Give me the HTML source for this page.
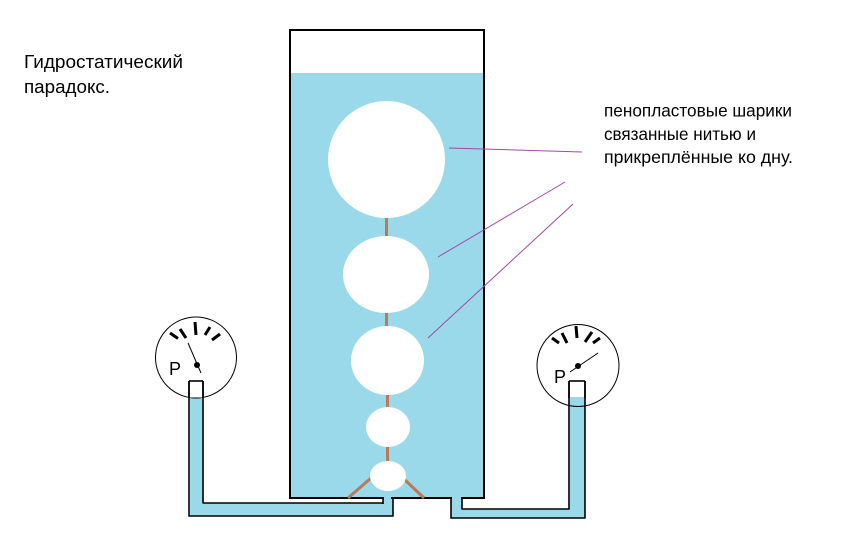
<!DOCTYPE html>
<html>
<head>
<meta charset="utf-8">
<style>
  html,body{margin:0;padding:0;background:#fff;}
  svg{display:block;}
  text{font-family:"Liberation Sans","DejaVu Sans",sans-serif;fill:#000;}
</style>
</head>
<body>
<svg width="847" height="547" viewBox="0 0 847 547" xmlns="http://www.w3.org/2000/svg">
  <rect x="0" y="0" width="847" height="547" fill="#fff"/>

  <!-- Title text -->
  <text x="24" y="68" font-size="18" textLength="159" lengthAdjust="spacingAndGlyphs">Гидростатический</text>
  <text x="24" y="93" font-size="18" textLength="86" lengthAdjust="spacingAndGlyphs">парадокс.</text>

  <!-- Annotation text -->
  <text x="604" y="116.5" font-size="17.5" textLength="188" lengthAdjust="spacingAndGlyphs">пенопластовые шарики</text>
  <text x="604" y="140" font-size="17.5" textLength="152" lengthAdjust="spacingAndGlyphs">связанные нитью и</text>
  <text x="604" y="163" font-size="17.5" textLength="189" lengthAdjust="spacingAndGlyphs">прикреплённые ко дну.</text>

  <!-- Water fills -->
  <rect x="291" y="73" width="192" height="425" fill="#99d9ea"/>
  <!-- left pipe water -->
  <rect x="190" y="398" width="13" height="118" fill="#99d9ea"/>
  <rect x="190" y="503" width="203" height="13" fill="#99d9ea"/>
  <rect x="383" y="496" width="10" height="10" fill="#99d9ea"/>
  <!-- right pipe water -->
  <rect x="569" y="397" width="16" height="121" fill="#99d9ea"/>
  <rect x="451" y="509" width="134" height="9" fill="#99d9ea"/>
  <rect x="451" y="496" width="11" height="14" fill="#99d9ea"/>

  <!-- Tank outline -->
  <g stroke="#000" stroke-width="2" fill="none">
    <line x1="290" y1="30" x2="484" y2="30"/>
    <line x1="290" y1="29" x2="290" y2="499"/>
    <line x1="484" y1="29" x2="484" y2="499"/>
    <line x1="289" y1="498" x2="384" y2="498"/>
    <line x1="391" y1="498" x2="452" y2="498"/>
    <line x1="461" y1="498" x2="485" y2="498"/>
  </g>

  <!-- Left pipe outline -->
  <g stroke="#000" stroke-width="1.6" fill="none">
    <line x1="189" y1="381" x2="189" y2="516.5"/>
    <line x1="203" y1="381" x2="203" y2="503.5"/>
    <line x1="189" y1="381" x2="203" y2="381"/>
    <line x1="203" y1="503" x2="383.5" y2="503"/>
    <line x1="383" y1="498" x2="383" y2="504"/>
    <line x1="188.5" y1="516" x2="393.5" y2="516"/>
    <line x1="393" y1="498" x2="393" y2="516.5"/>
  </g>

  <!-- Right pipe outline -->
  <g stroke="#000" stroke-width="1.6" fill="none">
    <line x1="569" y1="381" x2="569" y2="509.5"/>
    <line x1="585" y1="381" x2="585" y2="518.5"/>
    <line x1="569" y1="381" x2="585" y2="381"/>
    <line x1="462" y1="509" x2="569.5" y2="509"/>
    <line x1="462" y1="498" x2="462" y2="509.5"/>
    <line x1="450.5" y1="518" x2="585.5" y2="518"/>
    <line x1="451" y1="498" x2="451" y2="518.5"/>
  </g>

  <!-- Gauges -->
  <circle cx="196" cy="357.5" r="40.5" fill="none" stroke="#000" stroke-width="1"/>
  <circle cx="578" cy="365.5" r="41" fill="none" stroke="#000" stroke-width="1"/>
  <!-- redraw box white interior top part (inside circle) -->
  <rect x="190" y="382" width="12" height="15.5" fill="#fff"/>
  <rect x="570" y="382" width="14" height="15" fill="#fff"/>
  <g stroke="#000" stroke-width="1.6" fill="none">
    <line x1="189" y1="381" x2="189" y2="398"/>
    <line x1="203" y1="381" x2="203" y2="398"/>
    <line x1="569" y1="381" x2="569" y2="398"/>
    <line x1="585" y1="381" x2="585" y2="398"/>
  </g>

  <!-- Left gauge ticks -->
  <g stroke="#000" stroke-width="3" stroke-linecap="butt">
    <line x1="170" y1="333" x2="178" y2="338.5"/>
    <line x1="180" y1="329" x2="186" y2="338"/>
    <line x1="195" y1="322" x2="196" y2="335"/>
    <line x1="205" y1="335" x2="210" y2="327"/>
    <line x1="212" y1="340" x2="220" y2="334"/>
  </g>
  <line x1="188" y1="343" x2="201" y2="373" stroke="#000" stroke-width="1"/>
  <circle cx="197" cy="365" r="3" fill="#000"/>
  <text x="169" y="375" font-size="18">P</text>

  <!-- Right gauge ticks -->
  <g stroke="#000" stroke-width="3" stroke-linecap="butt">
    <line x1="552" y1="338" x2="559" y2="343"/>
    <line x1="562" y1="333" x2="567" y2="343"/>
    <line x1="576" y1="326" x2="577" y2="338"/>
    <line x1="585" y1="342" x2="592" y2="332"/>
    <line x1="593" y1="343" x2="600" y2="338"/>
  </g>
  <line x1="570" y1="372" x2="598" y2="353" stroke="#000" stroke-width="1"/>
  <circle cx="578" cy="366" r="3" fill="#000"/>
  <text x="554" y="383" font-size="18">P</text>

  <!-- Strings -->
  <g stroke="#b97a57" stroke-width="3">
    <line x1="386.5" y1="216" x2="386.5" y2="238"/>
    <line x1="386.5" y1="311" x2="386.5" y2="328"/>
    <line x1="387.5" y1="393" x2="387.5" y2="409"/>
    <line x1="387.5" y1="445" x2="387.5" y2="463"/>
    <line x1="371" y1="478" x2="348" y2="498"/>
    <line x1="404" y1="479" x2="424" y2="498"/>
  </g>

  <!-- Balls -->
  <g fill="#fff">
    <ellipse cx="386.5" cy="159.5" rx="58.5" ry="58.5"/>
    <ellipse cx="386" cy="274.5" rx="43" ry="38.5"/>
    <ellipse cx="387.5" cy="360.5" rx="36.5" ry="34.5"/>
    <ellipse cx="388" cy="427" rx="22" ry="20"/>
    <ellipse cx="388" cy="476" rx="18" ry="15"/>
  </g>

  <!-- Purple pointer lines -->
  <g stroke="#a349a4" stroke-width="1" fill="none">
    <line x1="449" y1="148" x2="582" y2="152"/>
    <line x1="438" y1="257" x2="565" y2="182"/>
    <line x1="428" y1="338" x2="573" y2="204"/>
  </g>
</svg>
</body>
</html>
